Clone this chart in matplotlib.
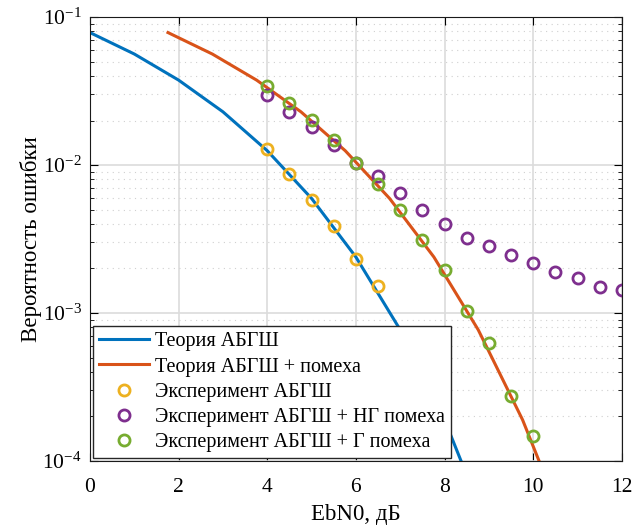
import matplotlib
matplotlib.use("Agg")
import matplotlib.pyplot as plt
from matplotlib.ticker import LogLocator, NullFormatter

plt.rcParams['font.family'] = ['Liberation Serif', 'DejaVu Serif']
plt.rcParams['mathtext.fontset'] = 'stix'

# theory curves
x_theory = [0, 1, 2, 3, 4, 5, 6, 7, 8, 9]
ber_awgn = [0.0786, 0.0563, 0.0375, 0.0229, 0.0125, 0.00595, 0.00239, 7.7e-4, 1.9e-4, 3.4e-5]
x_theory_jam = [1.76, 2.76, 3.76, 4.76, 5.76, 6.76, 7.76, 8.76, 9.76, 10.76]
ber_awgn_jam = [0.0786, 0.0563, 0.0375, 0.0229, 0.0125, 0.00595, 0.00239, 7.7e-4, 1.9e-4, 3.4e-5]

# experiments
x_exp_awgn = [4, 4.5, 5, 5.5, 6, 6.5]
ber_exp_awgn = [0.0128, 0.00865, 0.0058, 0.00387, 0.00232, 0.00153]

x_exp_ng = [4, 4.5, 5, 5.5, 6, 6.5, 7, 7.5, 8, 8.5, 9, 9.5, 10, 10.5, 11, 11.5, 12]
ber_exp_ng = [0.0298, 0.0229, 0.0182, 0.0137, 0.0104, 0.00843, 0.00643, 0.00496, 0.00397,
              0.00322, 0.00284, 0.00245, 0.00218, 0.00189, 0.00173, 0.00149, 0.00143]

x_exp_g = [4, 4.5, 5, 5.5, 6, 6.5, 7, 7.5, 8, 8.5, 9, 9.5, 10]
ber_exp_g = [0.0343, 0.0261, 0.0202, 0.0147, 0.0104, 0.00748, 0.00496, 0.0031, 0.00194,
             0.00104, 0.000628, 0.000276, 0.000148]

fig = plt.figure(figsize=(6.4, 5.31), dpi=100)
ax = fig.add_axes([0.1406, 0.1318, 0.831, 0.836])

ax.semilogy(x_theory, ber_awgn, color='#0072BD', lw=2.2, label='Теория АБГШ')
ax.semilogy(x_theory_jam, ber_awgn_jam, color='#D95319', lw=2.2, label='Теория АБГШ + помеха')
mk = dict(linestyle='none', marker='o', markersize=8, markerfacecolor='none', markeredgewidth=2)
ax.semilogy(x_exp_awgn, ber_exp_awgn, color='#EDB120', label='Эксперимент АБГШ', **mk)
ax.semilogy(x_exp_ng, ber_exp_ng, color='#7E2F8E', label='Эксперимент АБГШ + НГ помеха', **mk)
ax.semilogy(x_exp_g, ber_exp_g, color='#77AC30', label='Эксперимент АБГШ + Г помеха', **mk)

ax.set_xlim(0, 12)
ax.set_ylim(1e-4, 1e-1)
ax.set_xticks([0, 2, 4, 6, 8, 10, 12])
ax.yaxis.set_major_locator(LogLocator(base=10, numticks=10))
ax.yaxis.set_minor_locator(LogLocator(base=10, subs=range(2, 10), numticks=20))
ax.yaxis.set_minor_formatter(NullFormatter())

ax.grid(True, which='major', color='#dcdcdc', lw=1.2)
ax.grid(True, which='minor', axis='y', color='#d0d0d0', lw=0.8, linestyle=(0, (1, 4)))
ax.set_axisbelow(True)
ax.tick_params(which='both', direction='in', top=True, right=True, labelsize=15.5)
ax.tick_params(axis='x', which='major', pad=12)
ax.tick_params(axis='y', which='major', pad=6)
ax.tick_params(which='major', length=6)
ax.tick_params(which='minor', length=3)
for s in ax.spines.values():
    s.set_color('#1a1a1a')

ax.set_xlabel('EbN0, дБ', fontsize=16.5, labelpad=5)
ax.set_ylabel('Вероятность ошибки', fontsize=16.5, labelpad=0)

leg = ax.legend(loc='lower left', fontsize=14.5, fancybox=False, edgecolor='#262626',
                framealpha=1, borderaxespad=0.15, handlelength=2.5, borderpad=0.3,
                labelspacing=0.3, handletextpad=0.3)
leg.get_frame().set_linewidth(1)

fig.savefig('out.png', dpi=100)
